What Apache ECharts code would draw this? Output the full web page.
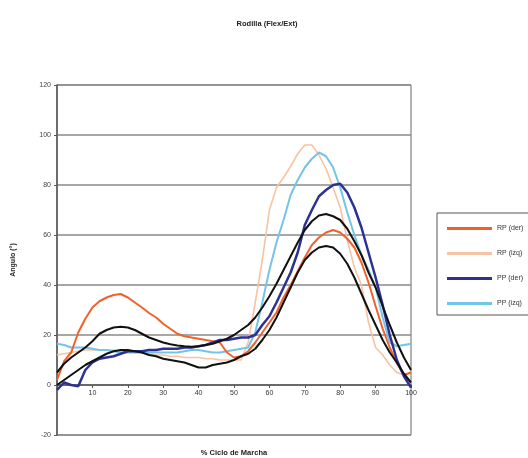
<!DOCTYPE html>
<html>
<head>
<meta charset="utf-8">
<script src="https://cdn.jsdelivr.net/npm/echarts@6/dist/echarts.min.js"></script>
<style>
html,body{margin:0;padding:0;background:#fff;}
#chart{width:528px;height:458px;}
</style>
</head>
<body>
<div id="chart"></div>
<script>
const xPct = [0,2,4,6,8,10,12,14,16,18,20,22,24,26,28,30,32,34,36,38,40,42,44,46,48,50,52,54,56,58,60,62,64,66,68,70,72,74,76,78,80,82,84,86,88,90,92,94,96,98,100];
const rpDer = [2,9.5,13,21,26.5,31,33.5,35,36,36.4,35,33,31,28.8,27,24.5,22.5,20.5,19.5,19,18.5,18,17.5,17,13,11,11.5,13.5,17,21,25,29,35,40,45.5,51,56,59,61,62,61,58.5,55,49,41,31.5,22.5,15,8.8,4,5];
const rpIzq = [12,12.5,13,13.5,14,14,14,14,14,13.5,13.5,13,13,12.5,12,12,11.5,11.5,11,11,11,10.5,10.5,10,10,10,10,17,33,50,70,79,83,87.5,92.5,96,96,92,86.5,79,71,58,47,40,25,15,12,8,5,4,5];
const ppDer = [-2,1,0,-0.5,6,9,10.5,11,11.5,12.5,13.5,13.5,13.5,14,14,14.5,14.5,14.5,15,15,15.5,16,17,18,18,18.5,19,19,20,24,27.5,33,39,45,53,64,70,75.5,78,80,80.5,77,71,63,53,43,32,20,10,3.5,-1];
const ppIzq = [16.5,16,15,15,15,14.5,14,14,13.5,13,13,13,13,13,13,13,13,13,13.5,14,14,13.5,13,13,13.5,14,14.5,15,21,33,46,57,66,76,82,87,90.5,93,91.5,87,79,69,60,52,46,39,27,17,15.5,16,16.5];
const normSup = [5,8.5,11,13,15,17.5,20.5,22,23,23.3,23,22,20.5,19,18,17,16.3,15.8,15.5,15.3,15.5,16,16.5,17.5,18.5,20,22,24,27,31,35.5,40.5,46,51.5,57,62,65.5,67.8,68.4,67.5,66,62.5,57.5,52,45,39,31.5,24,17,11,6];
const normInf = [0,2,4,6,8,9.5,11,12.5,13.5,14,14,13.5,13,12,11.5,10.5,10,9.5,9,8,7,7,8,8.5,9,10,11.5,12.5,14.5,18,22,27,33,39,45,50,53,55,55.6,55,52.5,48.5,43,36.5,30,24,18,13,9,4.5,1];
const legendNames = ['RP (der)','RP (izq)','PP (der)','PP (izq)'];
const titleText = 'Rodilla (Flex/Ext)';
const xName = '% Ciclo de Marcha';
const yName = 'Angulo (°)';

const pair = arr => xPct.map((x,i)=>[x, arr[i]]);
const font = 'Liberation Sans, Arial, sans-serif';

const chart = echarts.init(document.getElementById('chart'), null, {renderer:'canvas'});
const mk = (name, data, color, width, z) => ({
  name, type:'line', data: pair(data), showSymbol:false, symbol:'none',
  lineStyle:{color, width}, itemStyle:{color}, z, animation:false
});
chart.setOption({
  animation:false,
  backgroundColor:'#fff',
  title:{text:titleText, left:262, textAlign:'center', top:15,
    textStyle:{fontFamily:font, fontSize:7.5, fontWeight:'bold', color:'#222'}},
  grid:{left:57, right:117, top:85, bottom:23, show:true, borderColor:'#666', borderWidth:1, backgroundColor:'#fff',
    containLabel:false, outerBoundsMode:'none'},
  legend:{
    data: legendNames, orient:'vertical', left:437, top:213,
    itemWidth:45, itemHeight:3, itemGap:18,
    padding:[12,20,8,10], borderColor:'#555', borderWidth:1, backgroundColor:'#fff',
    icon:'rect',
    textStyle:{fontFamily:font, fontSize:7, color:'#333'}
  },
  xAxis:{
    type:'value', min:0, max:100, interval:10, position:'bottom', offset:-50,
    name:xName, nameLocation:'middle', nameGap:64,
    nameTextStyle:{fontFamily:font, fontSize:7.5, fontWeight:'bold', color:'#222'},
    axisLine:{onZero:false, lineStyle:{color:'#555', width:1.5}},
    axisTick:{show:true, length:3, lineStyle:{color:'#555'}},
    axisLabel:{fontFamily:font, fontSize:7, color:'#333', margin:5,
      formatter: v => v === 0 ? '' : String(v)},
    splitLine:{show:false}
  },
  yAxis:{
    type:'value', min:-20, max:120, interval:20,
    name:yName, nameLocation:'middle', nameGap:40, nameRotate:90,
    nameTextStyle:{fontFamily:font, fontSize:7, fontWeight:'bold', color:'#222'},
    axisLine:{show:true, lineStyle:{color:'#555', width:1.5}},
    axisTick:{show:true, length:3, lineStyle:{color:'#555'}},
    axisLabel:{fontFamily:font, fontSize:7, color:'#444', margin:6},
    splitLine:{show:true, lineStyle:{color:'#8a8a8a', width:1.5}}
  },
  series:[
    mk('RP (izq)', rpIzq, '#F7C3A2', 1.6, 2),
    mk('PP (izq)', ppIzq, '#74C3E8', 2, 3),
    mk('RP (der)', rpDer, '#F0622C', 2, 4),
    mk('PP (der)', ppDer, '#2C3193', 2.5, 5),
    mk('Normal sup', normSup, '#111111', 2, 6),
    mk('Normal inf', normInf, '#111111', 2, 6)
  ]
});
</script>
</body>
</html>
